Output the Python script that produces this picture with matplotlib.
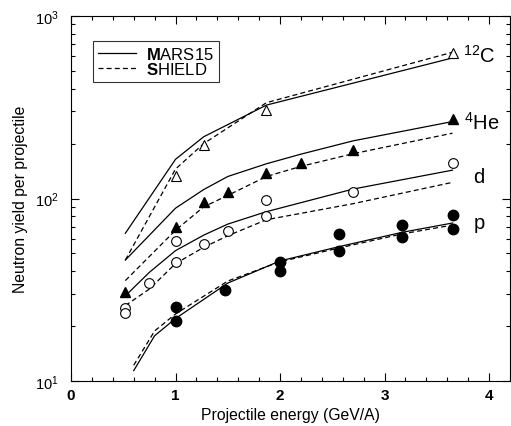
import matplotlib
matplotlib.use("Agg")
import matplotlib.pyplot as plt
from matplotlib.ticker import MultipleLocator, LogLocator, NullFormatter

plt.rcParams["font.family"] = ["Liberation Sans", "DejaVu Sans"]
plt.rcParams["mathtext.fontset"] = "custom"
plt.rcParams["mathtext.rm"] = "Liberation Sans"
plt.rcParams["mathtext.it"] = "Liberation Sans:italic"
plt.rcParams["mathtext.bf"] = "Liberation Sans:bold"

# measured yields (symbols)
c_x = [1.0, 1.27, 1.87, 3.65]
c_y = [133, 196, 305, 627]
he_x = [0.52, 1.0, 1.27, 1.5, 1.87, 2.2, 2.7, 3.65]
he_y = [30.6, 69.5, 96, 109, 138, 157, 185, 273]
d_x = [0.52, 0.52, 0.75, 1.0, 1.0, 1.27, 1.5, 1.87, 1.87, 2.7, 3.65]
d_y = [25.0, 23.6, 34.4, 45.1, 58.2, 56.3, 66.6, 79.9, 98.6, 108, 156]
p_x = [1.0, 1.0, 1.47, 2.0, 2.0, 2.56, 2.56, 3.17, 3.17, 3.65, 3.65]
p_y = [25.3, 21.2, 31.5, 44.7, 40.2, 63.9, 51.4, 71.9, 61.3, 81.2, 68.1]

# calculations: MARS15 (solid) and SHIELD (dashed)
c_calc_x = [0.52, 1.0, 1.27, 1.87, 3.65]
c_mars = [64.5, 164, 218, 325, 589]
c_shield = [46, 145, 200, 335, 633]
he_calc_x = [0.52, 1.0, 1.27, 1.5, 1.87, 2.2, 2.7, 3.65]
he_mars = [46, 88.5, 112, 132, 155, 175, 207, 264]
he_shield = [35.5, 67, 90, 104, 132, 150, 176, 228]
d_calc_x = [0.52, 0.75, 1.0, 1.27, 1.5, 1.87, 2.7, 3.65]
d_mars = [29.3, 39.4, 51.8, 63, 72.4, 84.7, 112.7, 143]
d_shield = [25.9, 31.9, 44, 54, 62.5, 76.5, 93.7, 122.6]
p_calc_x = [0.6, 0.8, 1.0, 1.5, 2.0, 2.56, 3.17, 3.65]
p_mars = [11.4, 17.7, 22.0, 34.4, 45.5, 54.4, 65.3, 73.4]
p_shield = [12.2, 18.8, 23.3, 35.3, 45.0, 53.5, 64.0, 71.5]

fig = plt.figure(figsize=(5.11, 4.27), dpi=100)
ax = fig.add_axes([71 / 511, 1 - 382 / 427, 439 / 511, 365 / 427])

lw = 0.9
dash = (4, 2.5)
for x, m, s in [(c_calc_x, c_mars, c_shield), (he_calc_x, he_mars, he_shield),
                (d_calc_x, d_mars, d_shield), (p_calc_x, p_mars, p_shield)]:
    l1, = ax.plot(x, m, color="black", lw=lw)
    l2, = ax.plot(x, s, color="black", lw=lw, dashes=dash)

ax.plot(c_x, c_y, "^", ms=7.5, mfc="white", mec="black", mew=0.8, ls="none")
ax.plot(he_x, he_y, "^", ms=7.5, mfc="black", mec="black", ls="none")
ax.plot(d_x, d_y, "o", ms=7, mfc="white", mec="black", mew=0.8, ls="none")
ax.plot(p_x, p_y, "o", ms=7.5, mfc="black", mec="black", ls="none")

ax.set_yscale("log")
ax.set_xlim(0, 4.2)
ax.set_ylim(10, 1000)

ax.xaxis.set_major_locator(MultipleLocator(1))
ax.xaxis.set_minor_locator(MultipleLocator(0.2))
ax.yaxis.set_major_locator(LogLocator(base=10))
ax.yaxis.set_minor_locator(LogLocator(base=10, subs=range(2, 10)))
ax.yaxis.set_minor_formatter(NullFormatter())
ax.tick_params(which="both", direction="in", top=True, right=True, width=0.8)
ax.tick_params(which="major", length=6)
ax.tick_params(which="minor", length=3)
ax.tick_params(axis="x", labelsize=11, pad=5)
ax.tick_params(axis="y", labelsize=10.5, pad=9)
for lab in ax.get_xticklabels():
    lab.set_fontweight("bold")

ax.set_xlabel("Projectile energy (GeV/A)", fontsize=11.3, labelpad=4)
ax.set_ylabel("Neutron yield per projectile", fontsize=11.3, labelpad=5)

ax.text(3.754, 558, "$^{12}$C", fontsize=14.5, va="baseline")
ax.text(3.76, 240, "$^{4}$He", fontsize=14.5, va="baseline")
ax.text(3.85, 122.6, "d", fontsize=14.5, va="baseline")
ax.text(3.85, 68.9, "p", fontsize=14.5, va="baseline")

leg = ax.legend([l1, l2], [r"$\mathbf{M}$ARS15", r"$\mathbf{S}$HIELD"],
                loc="upper left", bbox_to_anchor=(0.05, 0.932), borderaxespad=0,
                fontsize=12, handlelength=2.3, handletextpad=0.6,
                labelspacing=-0.05, borderpad=0.3, fancybox=False, frameon=True)
leg.get_frame().set_edgecolor("black")
leg.get_frame().set_linewidth(0.8)

fig.savefig("out.png", dpi=100)
